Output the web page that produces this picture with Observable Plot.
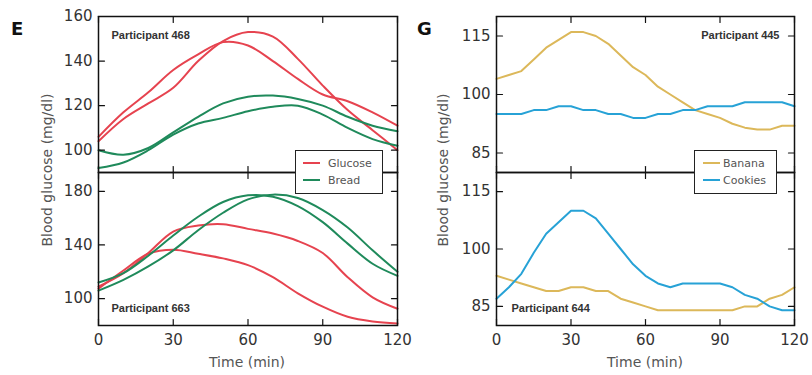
<!DOCTYPE html>
<html><head><meta charset="utf-8">
<script src="https://cdn.jsdelivr.net/npm/d3@7"></script>
<script src="https://cdn.jsdelivr.net/npm/@observablehq/plot@0.6"></script>
<style>
body{margin:0;background:#fff;}
#root{position:relative;width:812px;height:375px;overflow:hidden;background:#fff;font-family:"DejaVu Sans",sans-serif;}
.panel{position:absolute;}
.letter{position:absolute;font-weight:bold;font-size:18px;color:#111;transform:translateY(-50%);}
.ytitle{position:absolute;font-size:14px;color:#555;white-space:nowrap;transform:translate(-50%,-50%) rotate(-90deg);}
.xtitle{position:absolute;font-size:14px;color:#555;white-space:nowrap;transform:translate(-50%,-50%);}
.legend{position:absolute;background:#fff;border:1.5px solid #222;box-sizing:border-box;z-index:5;}
.legend .row{position:absolute;font-size:11px;color:#555;white-space:nowrap;transform:translateY(-50%);}
.legend .sw{position:absolute;height:2px;transform:translateY(-50%);}
</style></head><body><div id="root"></div>
<script>
// ---- data ----
const time10 = [0, 10, 20, 30, 40, 50, 60, 70, 80, 90, 100, 110, 120];
const time5 = [0, 5, 10, 15, 20, 25, 30, 35, 40, 45, 50, 55, 60, 65, 70, 75, 80, 85, 90, 95, 100, 105, 110, 115, 120];
const xTicks = [0, 30, 60, 90, 120];

// Participant 468 (two repeats of each food)
const p468Glucose1 = [104, 114, 121, 128, 140, 149, 153, 151, 141, 129, 118, 109, 100];
const p468Glucose2 = [106, 117, 126, 136, 143, 148.5, 147, 140, 132, 125, 122, 117, 111];
const p468Bread1 = [100, 98, 101, 108, 115, 121, 124, 124.5, 123, 120, 115, 111, 108.5];
const p468Bread2 = [92, 94.5, 100, 107, 112, 114.5, 117.5, 119.5, 120, 116, 110, 105, 102];
// Participant 663
const p663Bread1 = [112, 119, 132, 147, 161, 172, 177, 176, 169, 157, 141, 126, 117];
const p663Bread2 = [106, 114, 124, 136, 151, 164, 174, 177.5, 175, 166, 153, 136, 120];
const p663Glucose1 = [109, 119, 134, 150, 154.5, 155.5, 152, 148.5, 143, 134, 116, 101, 92.5];
const p663Glucose2 = [107.5, 121, 133.5, 136.5, 133.5, 130, 125, 116, 104, 94, 86.5, 83, 81.5];
// Participant 445
const p445Banana = [104, 105, 106, 109, 112, 114, 116, 116, 115, 113, 110, 107, 105, 102, 100, 98, 96, 95, 94, 92.5, 91.5, 91, 91, 92, 92];
const p445Cookies = [95, 95, 95, 96, 96, 97, 97, 96, 96, 95, 95, 94, 94, 95, 95, 96, 96, 97, 97, 97, 98, 98, 98, 98, 97];
// Participant 644
const p644Banana = [93, 92, 91, 90, 89, 89, 90, 90, 89, 89, 87, 86, 85, 84, 84, 84, 84, 84, 84, 84, 85, 85, 87, 88, 90];
const p644Cookies = [87, 90, 93.5, 99, 104, 107, 110, 110, 108, 104, 100, 96, 93, 91, 90, 91, 91, 91, 91, 90, 88, 87, 85, 84, 84];

const foodsE = ["Glucose", "Bread"];
const colorsE = ["#e6434f", "#1f8a5b"];
const foodsG = ["Banana", "Cookies"];
const colorsG = ["#dcb85a", "#27a2d6"];

function rows(times, specs) {
  const out = [];
  specs.forEach(([id, food, vals]) => vals.forEach((v, i) => out.push({t: times[i], v, id, food})));
  return out;
}

const root = document.getElementById("root");
const tickShape = {draw(context, l) { context.moveTo(0, 0); context.lineTo(0, -l); }};
const TL = 6;

function inwardTicks(xt, yt) {
  const common = {length: TL, anchor: "start", shape: tickShape, stroke: "#111", strokeWidth: 1.2};
  return [
    Plot.vector(xt, {x: d => d, frameAnchor: "top", rotate: 180, ...common}),
    Plot.vector(xt, {x: d => d, frameAnchor: "bottom", rotate: 0, ...common}),
    Plot.vector(yt, {y: d => d, frameAnchor: "left", rotate: 90, ...common}),
    Plot.vector(yt, {y: d => d, frameAnchor: "right", rotate: -90, ...common})
  ];
}

function panel(o) {
  const marks = [
    Plot.line(o.data, {x: "t", y: "v", z: "id", stroke: "food", strokeWidth: 2, curve: o.curve}),
    ...inwardTicks(xTicks, o.yTicks),
    Plot.axisY({anchor: "left", ticks: o.yTicks, tickSize: 0, tickPadding: 6, label: null, fontSize: 15, fill: "#333"}),
    Plot.frame({stroke: "#111", strokeWidth: 1.5}),
    Plot.text([o.label], {text: d => d, frameAnchor: o.anchor, dx: o.dx, dy: o.dy, textAnchor: o.textAnchor,
      lineAnchor: "middle", fontWeight: "bold", fontSize: 11, fill: "#333", fontFamily: "'Liberation Sans', Arial, sans-serif"})
  ];
  if (o.showX) marks.push(Plot.axisX({anchor: "bottom", ticks: xTicks, tickSize: 0, tickPadding: 9, label: null, fontSize: 15, fill: "#333"}));
  else marks.push(Plot.axisX({anchor: "bottom", ticks: [], label: null}));
  const svg = Plot.plot({
    width: o.width, height: o.height,
    marginLeft: o.ml, marginRight: o.mr, marginTop: o.mt, marginBottom: o.mb,
    x: {domain: [0, 120]},
    y: {domain: o.yDomain},
    color: {domain: o.foods, range: o.colors},
    style: {fontFamily: "'DejaVu Sans', sans-serif", fontSize: "15px", color: "#333", background: "transparent", overflow: "visible"},
    marks
  });
  const d = document.createElement("div");
  d.className = "panel";
  d.style.left = o.left + "px"; d.style.top = o.top + "px";
  d.appendChild(svg);
  root.appendChild(d);
}

// Panel E top
panel({data: rows(time10, [["g1", "Glucose", p468Glucose1], ["g2", "Glucose", p468Glucose2], ["b1", "Bread", p468Bread1], ["b2", "Bread", p468Bread2]]),
  curve: "catmull-rom", yDomain: [90, 160], yTicks: [100, 120, 140, 160], foods: foodsE, colors: colorsE,
  label: "Participant 468", anchor: "top-left", dx: 13, dy: 19, textAnchor: "start",
  left: 0, top: 0, width: 410, height: 180, ml: 98, mr: 13, mt: 16, mb: 8, showX: false});
// Panel E bottom
panel({data: rows(time10, [["g1", "Glucose", p663Glucose1], ["g2", "Glucose", p663Glucose2], ["b1", "Bread", p663Bread1], ["b2", "Bread", p663Bread2]]),
  curve: "catmull-rom", yDomain: [80, 194], yTicks: [100, 140, 180], foods: foodsE, colors: colorsE,
  label: "Participant 663", anchor: "bottom-left", dx: 13, dy: -17, textAnchor: "start",
  left: 0, top: 160, width: 410, height: 215, ml: 98, mr: 13, mt: 12, mb: 50, showX: true});
// Panel G top
panel({data: rows(time5, [["a", "Banana", p445Banana], ["c", "Cookies", p445Cookies]]),
  curve: "linear", yDomain: [80, 120], yTicks: [85, 100, 115], foods: foodsG, colors: colorsG,
  label: "Participant 445", anchor: "top-right", dx: -15, dy: 19, textAnchor: "end",
  left: 405, top: 0, width: 407, height: 180, ml: 91, mr: 18, mt: 16, mb: 8, showX: false});
// Panel G bottom
panel({data: rows(time5, [["a", "Banana", p644Banana], ["c", "Cookies", p644Cookies]]),
  curve: "linear", yDomain: [80, 120], yTicks: [85, 100, 115], foods: foodsG, colors: colorsG,
  label: "Participant 644", anchor: "bottom-left", dx: 15, dy: -17, textAnchor: "start",
  left: 405, top: 160, width: 407, height: 215, ml: 91, mr: 18, mt: 12, mb: 50, showX: true});

function addText(cls, txt, x, y) {
  const e = document.createElement("div");
  e.className = cls; e.textContent = txt;
  e.style.left = x + "px"; e.style.top = y + "px";
  root.appendChild(e);
}
addText("letter", "E", 11, 28);
addText("letter", "G", 417, 28);
addText("ytitle", "Blood glucose (mg/dl)", 47, 170);
addText("ytitle", "Blood glucose (mg/dl)", 443, 170);
addText("xtitle", "Time (min)", 247, 362);
addText("xtitle", "Time (min)", 645, 362);

function legend(x, y, w, h, foods, colors, swX, txtX) {
  const box = document.createElement("div");
  box.className = "legend";
  Object.assign(box.style, {left: x + "px", top: y + "px", width: w + "px", height: h + "px"});
  foods.forEach((f, i) => {
    const cy = 12 + i * 17;
    const sw = document.createElement("div");
    sw.className = "sw";
    Object.assign(sw.style, {left: swX + "px", top: cy + "px", width: "17px", background: colors[i]});
    const t = document.createElement("div");
    t.className = "row"; t.textContent = f;
    Object.assign(t.style, {left: txtX + "px", top: cy + "px"});
    box.appendChild(sw); box.appendChild(t);
  });
  root.appendChild(box);
}
legend(295, 150, 88, 44, foodsE, colorsE, 7, 32);
legend(694, 150, 83, 44, foodsG, colorsG, 8, 28);
</script>
</body></html>
